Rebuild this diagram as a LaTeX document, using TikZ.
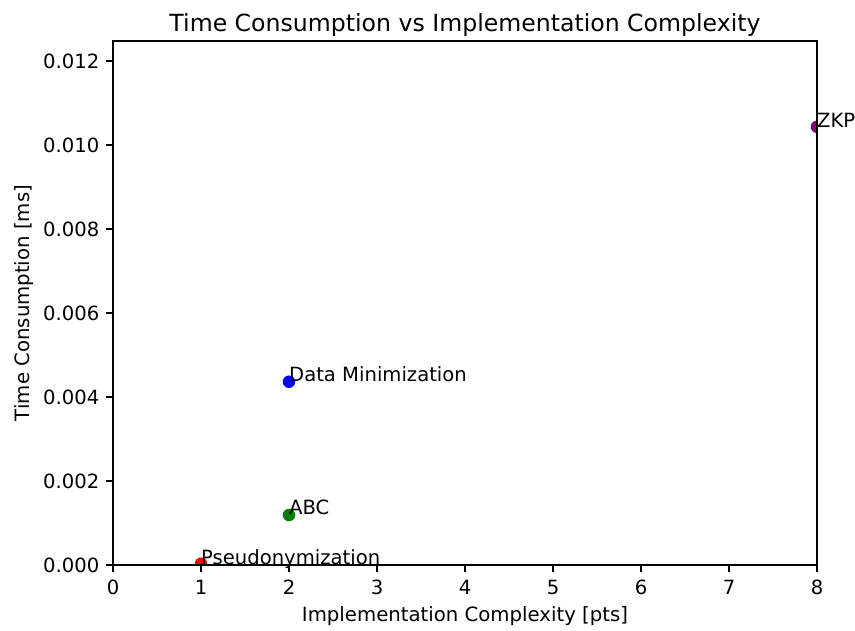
\documentclass[tikz,border=0pt]{standalone}
\usepackage{fontspec}
\setmainfont{DejaVu Sans}
\begin{document}
\begin{tikzpicture}[x=1pt,y=-1pt,
  ticklab/.style={inner sep=0pt,font=\fontsize{19.6}{19.6}\selectfont},
  axlab/.style={inner sep=0pt,font=\fontsize{19.7}{19.7}\selectfont},
  pointlab/.style={inner sep=0pt,anchor=base west,font=\fontsize{19.6}{19.6}\selectfont},
  dot/.style={circle,inner sep=0pt,minimum size=12.5pt},
  frameline/.style={line width=1.4pt,black},
  tickline/.style={line width=1.4pt,black}]
\useasboundingbox (0,0) rectangle (855,630);
% axes box: x from 0 to 8 -> 113..817, y from 0 to 0.012476 -> 565..41
\coordinate (ll) at (113,565);
\coordinate (ur) at (817,41);
% x ticks
\foreach \i in {0,...,8}{
  \draw[tickline] ({113+88*\i},565) -- ({113+88*\i},571.7);
  \node[ticklab,anchor=base] (xt\i) at ({113+88*\i},594) {\i};
}
% y ticks
\foreach \v/\t in {0/0.000,2/0.002,4/0.004,6/0.006,8/0.008,10/0.010,12/0.012}{
  \draw[tickline] (113,{565-42*\v}) -- (106.3,{565-42*\v});
  \node[ticklab,anchor=base east] (yt\v) at (99.5,{565-42*\v+7}) {\t};
}
% data points, clipped to the axes
\begin{scope}
  \clip (ll) rectangle (ur);
  \node[dot,fill={rgb,255:red,255;green,0;blue,0}] (p1) at (201,563.7) {};
  \node[dot,fill={rgb,255:red,0;green,128;blue,0}] (p2) at (289,515) {};
  \node[dot,fill={rgb,255:red,0;green,0;blue,255}] (p3) at (289,381.7) {};
  \node[dot,fill={rgb,255:red,128;green,0;blue,128}] (p4) at (817,126.8) {};
\end{scope}
\draw[frameline] (ll) rectangle (ur);
% point labels
\node[pointlab] (l1) at (201,564.3) {Pseudonymization};
\node[pointlab] (l2) at (289,514.3) {ABC};
\node[pointlab] (l3) at (289,381) {Data Minimization};
\node[pointlab] (l4) at (817,127.7) {ZKP};
% axis labels and title
\node[axlab,anchor=base] (xlabel) at (465,621.5) {Implementation Complexity [pts]};
\node[axlab,anchor=base,rotate=90] (ylabel) at (30,303) {Time Consumption [ms]};
\node[inner sep=0pt,anchor=base,font=\fontsize{23.6}{23.6}\selectfont] (title) at (465,31) {Time Consumption vs Implementation Complexity};
\end{tikzpicture}
\end{document}
